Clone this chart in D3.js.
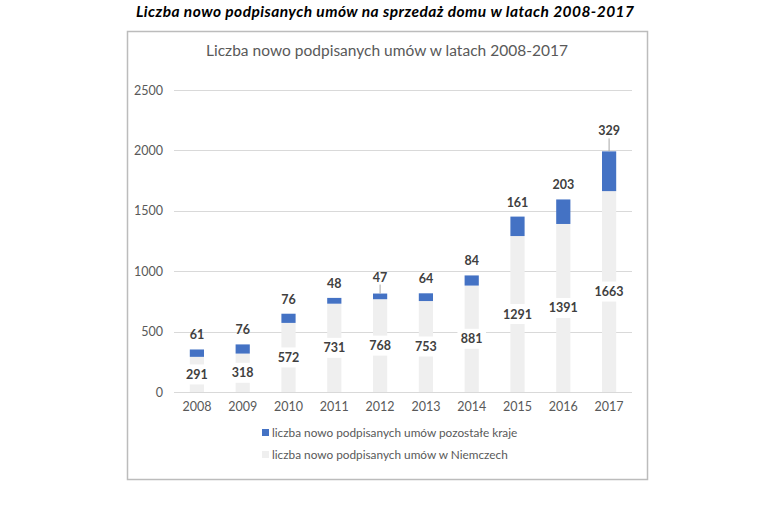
<!DOCTYPE html>
<html>
<head>
<meta charset="utf-8">
<script src="https://cdn.jsdelivr.net/npm/d3@7"></script>
<style>
  body { margin: 0; background: #fff; }
  svg text { font-family: Lato, "Open Sans", sans-serif; }
</style>
</head>
<body>
<svg id="chart" width="760" height="506"></svg>
<script>
// dane
var years = ["2008", "2009", "2010", "2011", "2012", "2013", "2014", "2015", "2016", "2017"];
var niemcy = [291, 318, 572, 731, 768, 753, 881, 1291, 1391, 1663];
var inne = [61, 76, 76, 48, 47, 64, 84, 161, 203, 329];
var yTicks = [0, 500, 1000, 1500, 2000, 2500];
var seriesNames = ["liczba nowo podpisanych umów pozostałe kraje", "liczba nowo podpisanych umów w Niemczech"];

var blue = "#4472c4", grey = "#efefef";
var svg = d3.select("#chart");

// tytuł nad ramką
svg.append("text")
    .attr("x", 136).attr("y", 17)
    .attr("font-size", 15.5).attr("font-weight", "bold").attr("font-style", "italic")
    .attr("fill", "#000")
    .attr("textLength", 498).attr("lengthAdjust", "spacing")
    .text("Liczba nowo podpisanych umów na sprzedaż domu w latach 2008-2017");

// ramka wykresu
svg.append("rect")
    .attr("x", 127.5).attr("y", 31.5).attr("width", 520).attr("height", 448)
    .attr("fill", "#fff").attr("stroke", "#bcbcbc").attr("stroke-width", 1.5);

svg.append("text")
    .attr("x", 206).attr("y", 56)
    .attr("font-size", 15.5).attr("fill", "#595959")
    .attr("textLength", 362).attr("lengthAdjust", "spacing")
    .text("Liczba nowo podpisanych umów w latach 2008-2017");

// skale
var x = d3.scaleBand().domain(years).range([174, 632]).paddingInner(0.69).paddingOuter(0.345);
var y = d3.scaleLinear().domain([0, 2500]).range([392, 90]);

// linie siatki
svg.append("g").selectAll("line")
    .data(yTicks).enter().append("line")
    .attr("x1", 174).attr("x2", 632)
    .attr("y1", function(d) { return Math.round(y(d)) + 0.5; })
    .attr("y2", function(d) { return Math.round(y(d)) + 0.5; })
    .attr("stroke", "#d9d9d9").attr("stroke-width", 1);

// oś Y
var yAxis = svg.append("g")
    .attr("transform", "translate(174,0)")
    .call(d3.axisLeft(y).tickValues(yTicks).tickFormat(d3.format("d")).tickSize(0).tickPadding(11));
yAxis.select(".domain").remove();
yAxis.selectAll("text").attr("font-size", 12.5).attr("fill", "#595959").attr("font-family", "Lato, sans-serif");

// oś X
var xAxis = svg.append("g")
    .attr("transform", "translate(0,392)")
    .call(d3.axisBottom(x).tickSize(0).tickPadding(10));
xAxis.select(".domain").remove();
xAxis.selectAll("text").attr("font-size", 12.5).attr("fill", "#595959").attr("font-family", "Lato, sans-serif");

// słupki
var bars = svg.append("g");
bars.selectAll("rect.de")
    .data(years).enter().append("rect")
    .attr("x", function(d) { return x(d); })
    .attr("width", x.bandwidth())
    .attr("y", function(d, i) { return y(niemcy[i]); })
    .attr("height", function(d, i) { return y(0) - y(niemcy[i]); })
    .attr("fill", grey);
bars.selectAll("rect.inne")
    .data(years).enter().append("rect")
    .attr("x", function(d) { return x(d); })
    .attr("width", x.bandwidth())
    .attr("y", function(d, i) { return y(niemcy[i] + inne[i]); })
    .attr("height", function(d, i) { return y(niemcy[i]) - y(niemcy[i] + inne[i]); })
    .attr("fill", blue);

// etykiety dla Niemiec (środek, białe tło)
var lab = svg.append("g");
years.forEach(function(d, i) {
    var cx = x(d) + x.bandwidth() / 2;
    var cy = y(niemcy[i] / 2);
    var w = String(niemcy[i]).length * 7.5 + 6;
    lab.append("rect")
        .attr("x", cx - w / 2).attr("y", cy - 10)
        .attr("width", w).attr("height", 20)
        .attr("fill", "#fff");
    lab.append("text")
        .attr("x", cx).attr("y", cy + 4.5)
        .attr("text-anchor", "middle")
        .attr("font-size", 12.5).attr("font-weight", "bold").attr("fill", "#404040")
        .text(niemcy[i]);
});

// etykiety pozostałe kraje (nad słupkiem)
var lift = { "2012": 2, "2017": 6 };
years.forEach(function(d, i) {
    var cx = x(d) + x.bandwidth() / 2;
    var top = y(niemcy[i] + inne[i]);
    var extra = lift[d] || 0;
    var ly = top - 10 - extra;
    if (extra) {
        lab.append("line")
            .attr("x1", cx).attr("x2", cx)
            .attr("y1", ly + 3).attr("y2", top)
            .attr("stroke", "#a6a6a6").attr("stroke-width", 1);
    }
    lab.append("text")
        .attr("x", cx).attr("y", ly)
        .attr("text-anchor", "middle")
        .attr("font-size", 12.5).attr("font-weight", "bold").attr("fill", "#404040")
        .text(inne[i]);
});

// legenda
var leg = svg.append("g");
seriesNames.forEach(function(n, i) {
    var ly = 433 + i * 22;
    leg.append("rect")
        .attr("x", 262).attr("y", ly - 4).attr("width", 7).attr("height", 7)
        .attr("fill", i === 0 ? blue : grey);
    leg.append("text")
        .attr("x", 272).attr("y", ly + 4)
        .attr("font-size", 11.8).attr("fill", "#595959")
        .text(n);
});
</script>
</body>
</html>
